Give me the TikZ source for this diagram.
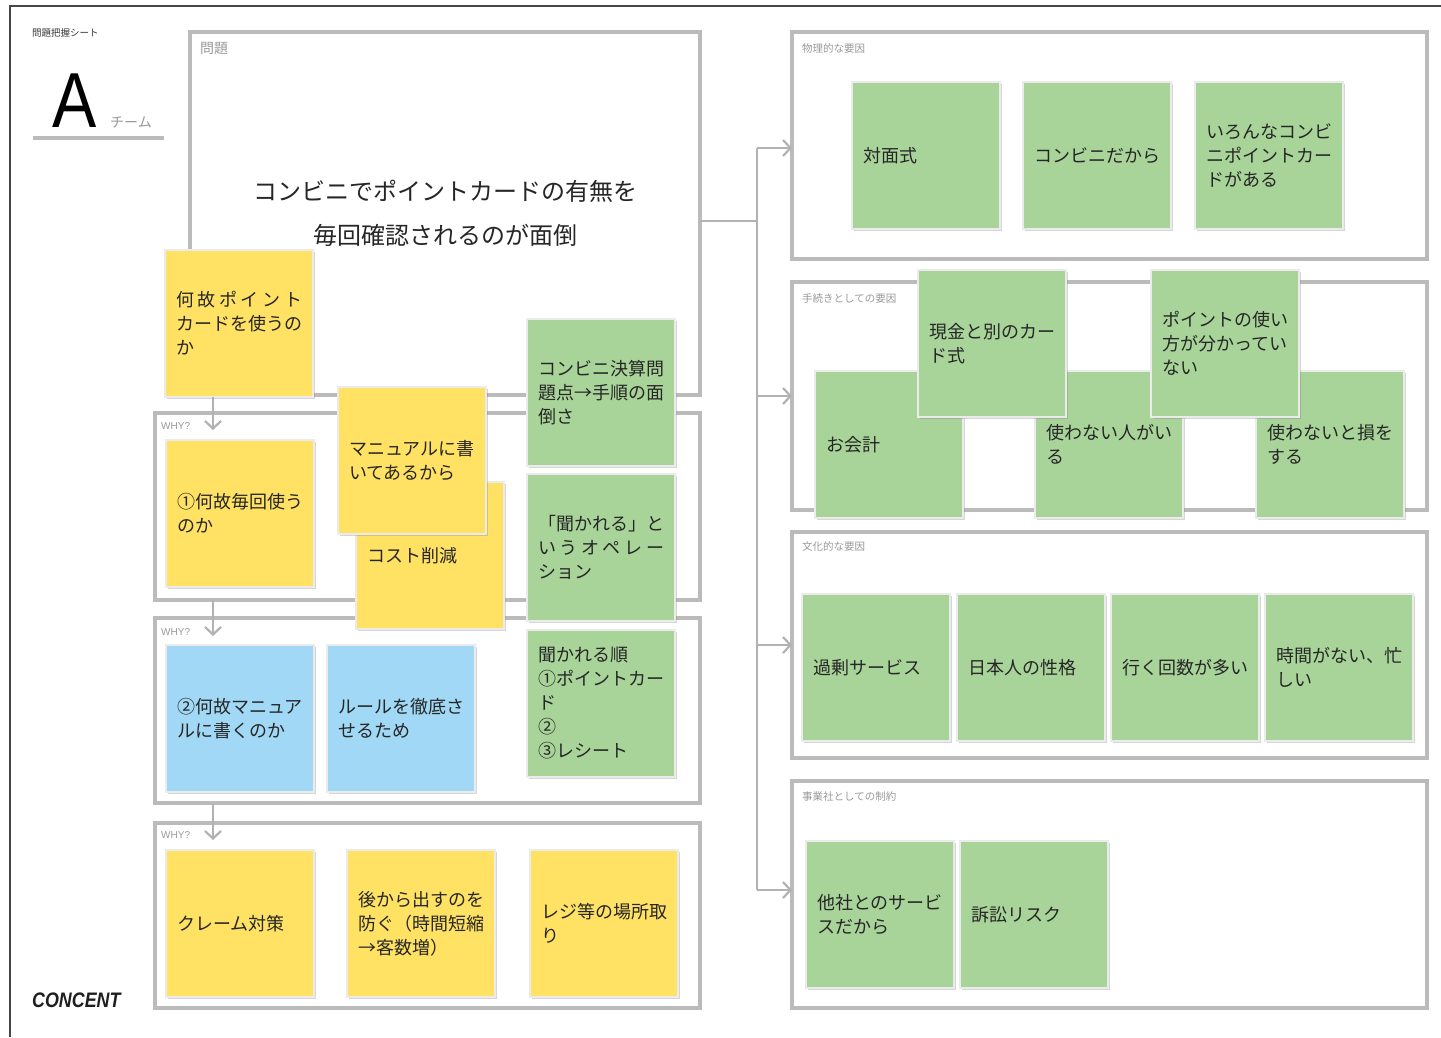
\documentclass[tikz,border=0pt]{standalone}
\usepackage{fontspec}
\setmainfont{Noto Sans CJK JP}
\newfontfamily\latinfont{Liberation Sans}
\usetikzlibrary{shadows,arrows.meta}
\definecolor{stY}{HTML}{FFE264}
\definecolor{stG}{HTML}{A8D49A}
\definecolor{stB}{HTML}{A0D8F5}
\definecolor{frameGray}{HTML}{BBBBBB}
\definecolor{lblGray}{HTML}{9A9A9A}
\newcommand\jfill[1]{\makebox[126pt][s]{#1}}
\tikzset{
  frame/.style={draw=frameGray, line width=4.5pt, anchor=north west, inner sep=0pt, outer sep=0pt},
  sticky/.style={draw=white!92!black, line width=1.2pt, anchor=north west, outer sep=0pt,
    minimum width=148pt, minimum height=147pt, text width=126pt, inner sep=11pt,
    align=left, font=\fontsize{18}{24}\selectfont, text=black!85,
    drop shadow={shadow xshift=1.8pt, shadow yshift=-2.2pt, opacity=0.32}},
  yel/.style={sticky, fill=stY},
  grn/.style={sticky, fill=stG},
  blu/.style={sticky, fill=stB},
  flabel/.style={anchor=west, text=lblGray, font=\fontsize{10.5}{12}\selectfont, inner sep=0pt},
  why/.style={anchor=west, text=lblGray, font=\latinfont\fontsize{10}{12}\selectfont, inner sep=0pt},
  conn/.style={draw=frameGray!95!black, line width=2.2pt},
  arr/.style={conn, -{Straight Barb[length=7.5pt, width=16pt]}}
}
\begin{document}
\begin{tikzpicture}[x=1pt,y=-1pt]
\useasboundingbox (0,0) rectangle (1441,1037);
\fill[white] (0,0) rectangle (1441,1037);
% page border
\draw[black!72, line width=1.3pt] (10,1037) -- (10,6) -- (1441,6);

% header
\node[anchor=west, inner sep=0pt, font=\fontsize{9.5}{10}\selectfont, text=black!80] (sheet) at (32,33) {問題把握シート};
\node[anchor=base west, inner sep=0pt, font=\latinfont\fontsize{78}{78}\selectfont] (teamA) at (52,127) {\scalebox{0.85}[1]{A}};
\node[anchor=base west, inner sep=0pt, font=\fontsize{14}{14}\selectfont, text=lblGray] (team) at (110,127) {チーム};
\draw[frameGray, line width=4pt] (33,138) -- (164,138);
\node[anchor=west, inner sep=0pt, font=\latinfont\bfseries\itshape\fontsize{21}{21}\selectfont, text=black!88] (brand) at (32,1000) {\scalebox{0.85}[1]{CONCENT}};

% frames left
\node[frame, minimum width=510pt, minimum height=363pt] (prob) at (190,32) {};
\node[frame, minimum width=545pt, minimum height=187pt] (w1) at (155,413) {};
\node[frame, minimum width=545pt, minimum height=185pt] (w2) at (155,618) {};
\node[frame, minimum width=545pt, minimum height=185pt] (w3) at (155,823) {};
% frames right
\node[frame, minimum width=635pt, minimum height=227pt] (f1) at (792,32) {};
\node[frame, minimum width=635pt, minimum height=228pt] (f2) at (792,282) {};
\node[frame, minimum width=635pt, minimum height=226pt] (f3) at (792,532) {};
\node[frame, minimum width=635pt, minimum height=227pt] (f4) at (792,781) {};

% frame labels
\node[anchor=west, inner sep=0pt, text=lblGray, font=\fontsize{14}{14}\selectfont] (problbl) at (200,48) {問題};
\node[why] (why1) at (161,426) {WHY?};
\node[why] (why2) at (161,632) {WHY?};
\node[why] (why3) at (161,835) {WHY?};
\node[flabel] (l1) at (802,48) {物理的な要因};
\node[flabel] (l2) at (802,299) {手続きとしての要因};
\node[flabel] (l3) at (802,546) {文化的な要因};
\node[flabel] (l4) at (802,797) {事業社としての制約};

% problem text
\node[font=\fontsize{24}{44}\selectfont, align=center, text=black!85] (probtext) at (445,213) {コンビニでポイントカードの有無を\\毎回確認されるのが面倒};

% connectors right
\coordinate (hub) at (757,221);
\coordinate (trunkTop) at (757,148);
\coordinate (trunkBot) at (757,890);
\draw[conn] (prob.east |- hub) -- (hub);
\draw[conn] (trunkTop) -- (trunkBot);
\draw[arr] (trunkTop) -- (f1.west |- trunkTop);
\draw[arr] (f2.west -| hub) -- (f2.west);
\draw[arr] (f3.west -| hub) -- (f3.west);
\draw[arr] (trunkBot) -- (f4.west |- trunkBot);

% left stickies
\node[yel] (q1) at (165,250) {\jfill{何\hfill 故\hfill ポ\hfill イ\hfill ン\hfill ト}\\カードを使うの\\か};
\node[yel] (a1) at (166,440) {①何故毎回使う\\のか};
\node[yel] (cost) at (356,482) {コスト削減};
\node[yel] (manual) at (338,387) {マニュアルに書\\いてあるから};
\node[blu] (a2) at (166,645) {②何故マニュア\\ルに書くのか};
\node[blu] (rule) at (327,645) {ルールを徹底さ\\せるため};
\node[grn] (g1) at (527,319) {コンビニ決算問\\題点→手順の面\\倒さ};
\node[grn] (g2) at (527,474) {「聞かれる」と\\\jfill{い\hfill う\hfill オ\hfill ペ\hfill レ\hfill ー}\\ション};
\node[grn] (g3) at (527,630) {聞かれる順\\①ポイントカー\\ド\\②\\③レシート};
\node[yel] (claim) at (166,850) {クレーム対策};
\node[yel] (later) at (347,850) {後から出すのを\\防ぐ（時間短縮\\→客数増）};
\node[yel] (space) at (530,850) {レジ等の場所取\\り};

% down arrows
\coordinate (d1) at (213,430);
\coordinate (d2) at (213,636);
\coordinate (d3) at (213,840);
\draw[arr] (q1.south -| d1) -- (d1);
\draw[arr] (w1.south -| d2) -- (d2);
\draw[arr] (w2.south -| d3) -- (d3);

% right stickies
\node[grn] (r1) at (852,82) {対面式};
\node[grn] (r2) at (1023,82) {コンビニだから};
\node[grn] (r3) at (1195,82) {いろんなコンビ\\ニポイントカー\\ドがある};
\node[grn] (p1) at (815,371) {お会計};
\node[grn] (p3) at (1035,371) {使わない人がい\\る};
\node[grn] (p5) at (1256,371) {使わないと損を\\する};
\node[grn] (p2) at (918,270) {現金と別のカー\\ド式};
\node[grn] (p4) at (1151,270) {ポイントの使い\\方が分かってい\\ない};
\node[grn] (c1) at (802,594) {過剰サービス};
\node[grn] (c2) at (957,594) {日本人の性格};
\node[grn] (c3) at (1111,594) {行く回数が多い};
\node[grn] (c4) at (1265,594) {時間がない、忙\\しい};
\node[grn] (b1) at (806,841) {他社とのサービ\\スだから};
\node[grn] (b2) at (960,841) {訴訟リスク};
\end{tikzpicture}
\end{document}
